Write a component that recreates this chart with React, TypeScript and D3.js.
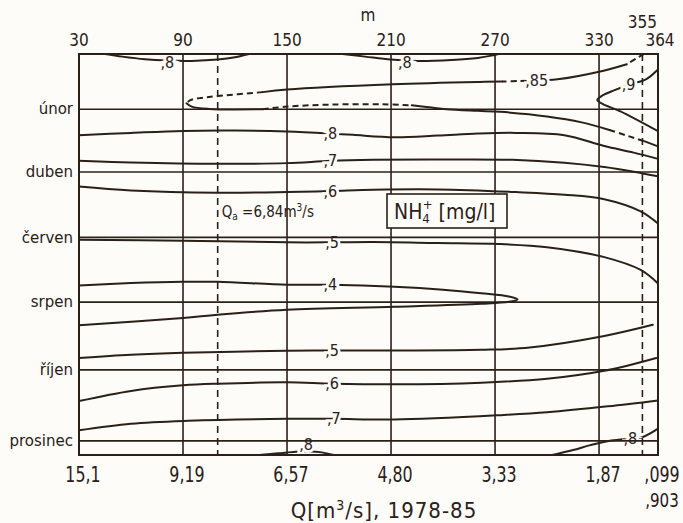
import * as d3 from "d3";

const W = 683;
const H = 523;

// top axis: river km (m), bottom axis: discharge Q at the same positions
const TOP_M = [30, 90, 150, 210, 270, 330, 364];
const EXTRA_M = 355;
const Q_LABELS = ["15,1", "9,19", "6,57", "4,80", "3,33", "1,87", ",099"];
const Q_EXTRA = ",903";
const GRID_M = [90, 150, 210, 270, 330];
const QA_M = 110;

// months on the y axis (position in months from the top)
const MONTHS = ["únor", "duben", "červen", "srpen", "říjen", "prosinec"];
const MONTH_AT = [1.68, 3.59, 5.58, 7.55, 9.61, 11.77];
const MONTH_MAX = 12.2;

// isolines, points are [m, month]
const iso80TopLeft = [[45, 0], [55, 0.08], [68, 0.16], [81, 0.2], [95, 0.21], [110, 0.17], [120, 0.1], [128, 0]];
const iso80TopMid = [[182, 0], [195, 0.08], [210, 0.17], [225, 0.21], [245, 0.18], [260, 0.12], [268, 0.05], [272, 0]];
const iso85Top = [[356, 0], [352, 0.12], [346, 0.31]];
const iso85Upper = [[346, 0.31], [330, 0.54], [306, 0.77], [294, 0.8]];
const iso85Label = [[294, 0.8], [284, 0.82], [274, 0.84]];
const iso85Mid = [[274, 0.84], [261, 0.85], [211, 0.92], [150, 1.08], [136, 1.16]];
const iso85Left = [[136, 1.16], [110, 1.28], [100, 1.34], [94, 1.41], [92, 1.5]];
const iso85Tip = [[92, 1.5], [95, 1.6], [105, 1.67], [136, 1.68]];
const iso85Lens = [[136, 1.68], [150, 1.6], [175, 1.54], [205, 1.53], [222, 1.56]];
const iso85Lower = [[222, 1.56], [232, 1.62], [242, 1.68], [260, 1.73], [273, 1.76], [300, 1.9], [320, 2.08], [336, 2.31]];
const iso85Right = [[336, 2.31], [347, 2.5], [356, 2.65]];
const iso85End = [[356, 2.65], [364, 2.81]];
const iso90 = [[364, 0.47], [357, 0.77], [348, 0.92], [339, 1.1], [332, 1.26], [329, 1.4], [332, 1.52], [342, 1.74], [364, 2.35]];
const iso80 = [[30, 2.47], [60, 2.4], [90, 2.34], [120, 2.33], [150, 2.36], [175, 2.42], [188, 2.46], [212, 2.53], [237, 2.48], [260, 2.42], [282, 2.4], [310, 2.47], [333, 2.8], [350, 3.0], [364, 3.19]];
const iso70 = [[30, 3.25], [60, 3.3], [110, 3.34], [150, 3.32], [175, 3.25], [200, 3.22], [237, 3.21], [280, 3.22], [310, 3.31], [333, 3.44], [350, 3.58], [364, 3.72]];
const iso60 = [[30, 4.03], [60, 4.15], [110, 4.22], [150, 4.2], [175, 4.17], [200, 4.13], [237, 4.12], [282, 4.2], [310, 4.28], [333, 4.42], [354, 4.79], [364, 5.16]];
const iso50 = [[30, 5.65], [90, 5.68], [150, 5.73], [176, 5.73], [200, 5.72], [237, 5.75], [272, 5.78], [300, 5.88], [333, 6.18], [354, 6.57], [364, 6.98]];
const iso40 = [[30, 7.04], [60, 6.97], [90, 6.93], [110, 6.93], [150, 7.02], [175, 7.02], [212, 7.08], [240, 7.17], [262, 7.28], [278, 7.38], [283, 7.47], [278, 7.54], [262, 7.6], [212, 7.69], [150, 7.78], [110, 7.93], [90, 8.03], [30, 8.25]];
const iso50b = [[30, 9.25], [60, 9.15], [90, 9.09], [150, 9.03], [176, 9.02], [212, 9.02], [262, 9.0], [290, 8.93], [333, 8.58], [361, 8.24]];
const iso60b = [[30, 10.56], [60, 10.25], [90, 10.08], [110, 10.03], [150, 9.99], [176, 10.03], [212, 10.05], [262, 10.0], [300, 9.88], [333, 9.64], [363, 9.25]];
const iso70b = [[30, 11.45], [60, 11.25], [93, 11.16], [150, 11.1], [177, 11.1], [212, 11.12], [275, 10.98], [300, 10.9], [335, 10.72], [364, 10.54]];
const iso80BottomLeft = [[134, 12.2], [145, 12.15], [155, 12.1], [163, 12.09], [170, 12.12], [177, 12.2]];
const iso80BottomRight = [[303, 12.2], [315, 12.05], [325, 11.9], [337, 11.76], [349, 11.7], [355, 11.66], [364, 11.4]];

const solidLines = [
  iso80TopLeft, iso80TopMid, iso85Upper, iso85Mid, iso85Tip, iso85Lower, iso85End,
  iso90, iso80, iso70, iso60, iso50, iso40, iso50b, iso60b, iso70b,
  iso80BottomLeft, iso80BottomRight,
];
const dashedLines = [iso85Top, iso85Label, iso85Left, iso85Lens, iso85Right];

// isoline labels: [text, m, month]
const isoLabels: [string, number, number][] = [
  [",8", 81, 0.27],
  [",8", 218, 0.25],
  [",85", 294, 0.8],
  [",9", 347, 0.92],
  [",8", 175, 2.42],
  [",7", 175, 3.24],
  [",6", 175, 4.17],
  [",5", 176, 5.74],
  [",4", 175, 7.0],
  [",5", 176, 9.02],
  [",6", 176, 10.03],
  [",7", 177, 11.1],
  [",8", 161, 11.88],
  [",8", 348, 11.7],
];

const INK = "#2a2018";
const BG = "#fdfcf8";
const COND = "'DejaVu Sans Condensed', 'Liberation Sans Narrow', sans-serif";

export default function App() {
  const x = d3.scaleLinear().domain([30, 364]).range([79, 658]);
  const y = d3.scaleLinear().domain([0, MONTH_MAX]).range([54, 455]);
  const line = d3
    .line<number[]>()
    .x((d) => x(d[0]))
    .y((d) => y(d[1]))
    .curve(d3.curveCatmullRom.alpha(0.5));

  const [x0, x1] = x.range();
  const [y0, y1] = y.range();

  // narrow stencil-like numbers: squeeze the condensed font horizontally
  const squeeze = (cx: number, by: number) => `translate(${cx},${by}) scale(0.84,1)`;

  return (
    <svg
      width={W}
      height={H}
      style={{ position: "absolute", left: 0, top: 0, background: BG }}
    >
      <defs>
        <mask id="gaps" maskUnits="userSpaceOnUse" x={0} y={0} width={W} height={H}>
          <rect x={0} y={0} width={W} height={H} fill="white" />
          {isoLabels.map(([t, m, mo], i) => (
            <text
              key={i}
              x={x(m)}
              y={y(mo)}
              dy="0.35em"
              textAnchor="middle"
              fontFamily={COND}
              fontSize={16}
              fill="black"
              stroke="black"
              strokeWidth={6}
            >
              {t}
            </text>
          ))}
        </mask>
      </defs>

      {/* horizontal month lines */}
      {MONTH_AT.map((m, i) => (
        <line key={i} x1={x0} x2={x1} y1={y(m)} y2={y(m)} stroke={INK} strokeWidth={1.6} />
      ))}
      {/* vertical grid lines */}
      {GRID_M.map((m) => (
        <line key={m} x1={x(m)} x2={x(m)} y1={y0} y2={y1} stroke={INK} strokeWidth={1.6} />
      ))}
      {[QA_M, EXTRA_M].map((m) => (
        <line
          key={m}
          x1={x(m)}
          x2={x(m)}
          y1={y0}
          y2={y1}
          stroke={INK}
          strokeWidth={1.6}
          strokeDasharray="7,5"
        />
      ))}
      <rect x={x0} y={y0} width={x1 - x0} height={y1 - y0} fill="none" stroke={INK} strokeWidth={2} />

      {/* isolines */}
      <g mask="url(#gaps)" fill="none" stroke={INK} strokeWidth={2} strokeLinecap="round">
        {solidLines.map((d, i) => (
          <path key={"s" + i} d={line(d) || ""} />
        ))}
        {dashedLines.map((d, i) => (
          <path key={"d" + i} d={line(d) || ""} strokeDasharray="6,4" strokeLinecap="butt" />
        ))}
      </g>

      {isoLabels.map(([t, m, mo], i) => (
        <text
          key={i}
          x={x(m)}
          y={y(mo)}
          dy="0.35em"
          textAnchor="middle"
          fontFamily={COND}
          fontSize={16}
          fill={INK}
        >
          {t}
        </text>
      ))}

      {/* month labels */}
      {MONTHS.map((t, i) => (
        <text
          key={t}
          x={x0 - 6}
          y={y(MONTH_AT[i])}
          dy="0.35em"
          textAnchor="end"
          fontFamily="'DejaVu Sans', sans-serif"
          fontSize={15}
          fill={INK}
        >
          {t}
        </text>
      ))}

      {/* top axis */}
      <text x={368} y={21} textAnchor="middle" fontFamily={COND} fontSize={17} fill={INK}>
        m
      </text>
      {TOP_M.map((m) => (
        <text key={m} x={x(m) + (m === 364 ? 2 : 0)} y={46} textAnchor="middle" fontFamily={COND} fontSize={17} fill={INK}>
          {m}
        </text>
      ))}
      <text x={x(EXTRA_M)} y={28} textAnchor="middle" fontFamily={COND} fontSize={17} fill={INK}>
        {EXTRA_M}
      </text>

      {/* bottom axis */}
      {Q_LABELS.map((t, i) => (
        <text
          key={t}
          transform={squeeze(x(TOP_M[i]) + 4, 482)}
          textAnchor="middle"
          fontFamily={COND}
          fontSize={21}
          fill={INK}
        >
          {t}
        </text>
      ))}
      <text transform={squeeze(x(364) + 4, 507)} textAnchor="middle" fontFamily={COND} fontSize={20} fill={INK}>
        {Q_EXTRA}
      </text>
      <text x={384} y={518} textAnchor="middle" fontFamily={COND} fontSize={22} letterSpacing={1} fill={INK}>
        Q[m<tspan dy={-8} fontSize={14}>3</tspan>
        <tspan dy={8}>/s], 1978-85</tspan>
      </text>

      {/* annotations */}
      <text x={x(QA_M) + 4} y={217} fontFamily={COND} fontSize={15} fill={INK}>
        Q<tspan dy={3} fontSize={10}>a</tspan>
        <tspan dy={-3}> =6,84m</tspan>
        <tspan dy={-6} fontSize={10}>3</tspan>
        <tspan dy={6}>/s</tspan>
      </text>
      <rect x={387} y={194} width={120} height={34} fill={BG} stroke={INK} strokeWidth={1.6} />
      <text x={394} y={219} fontFamily={COND} fontSize={21} fill={INK}>
        NH<tspan dy={4} fontSize={13}>4</tspan>
        <tspan dx={-7} dy={-14} fontSize={13}>+</tspan>
        <tspan dy={10}> [mg/l]</tspan>
      </text>
    </svg>
  );
}
